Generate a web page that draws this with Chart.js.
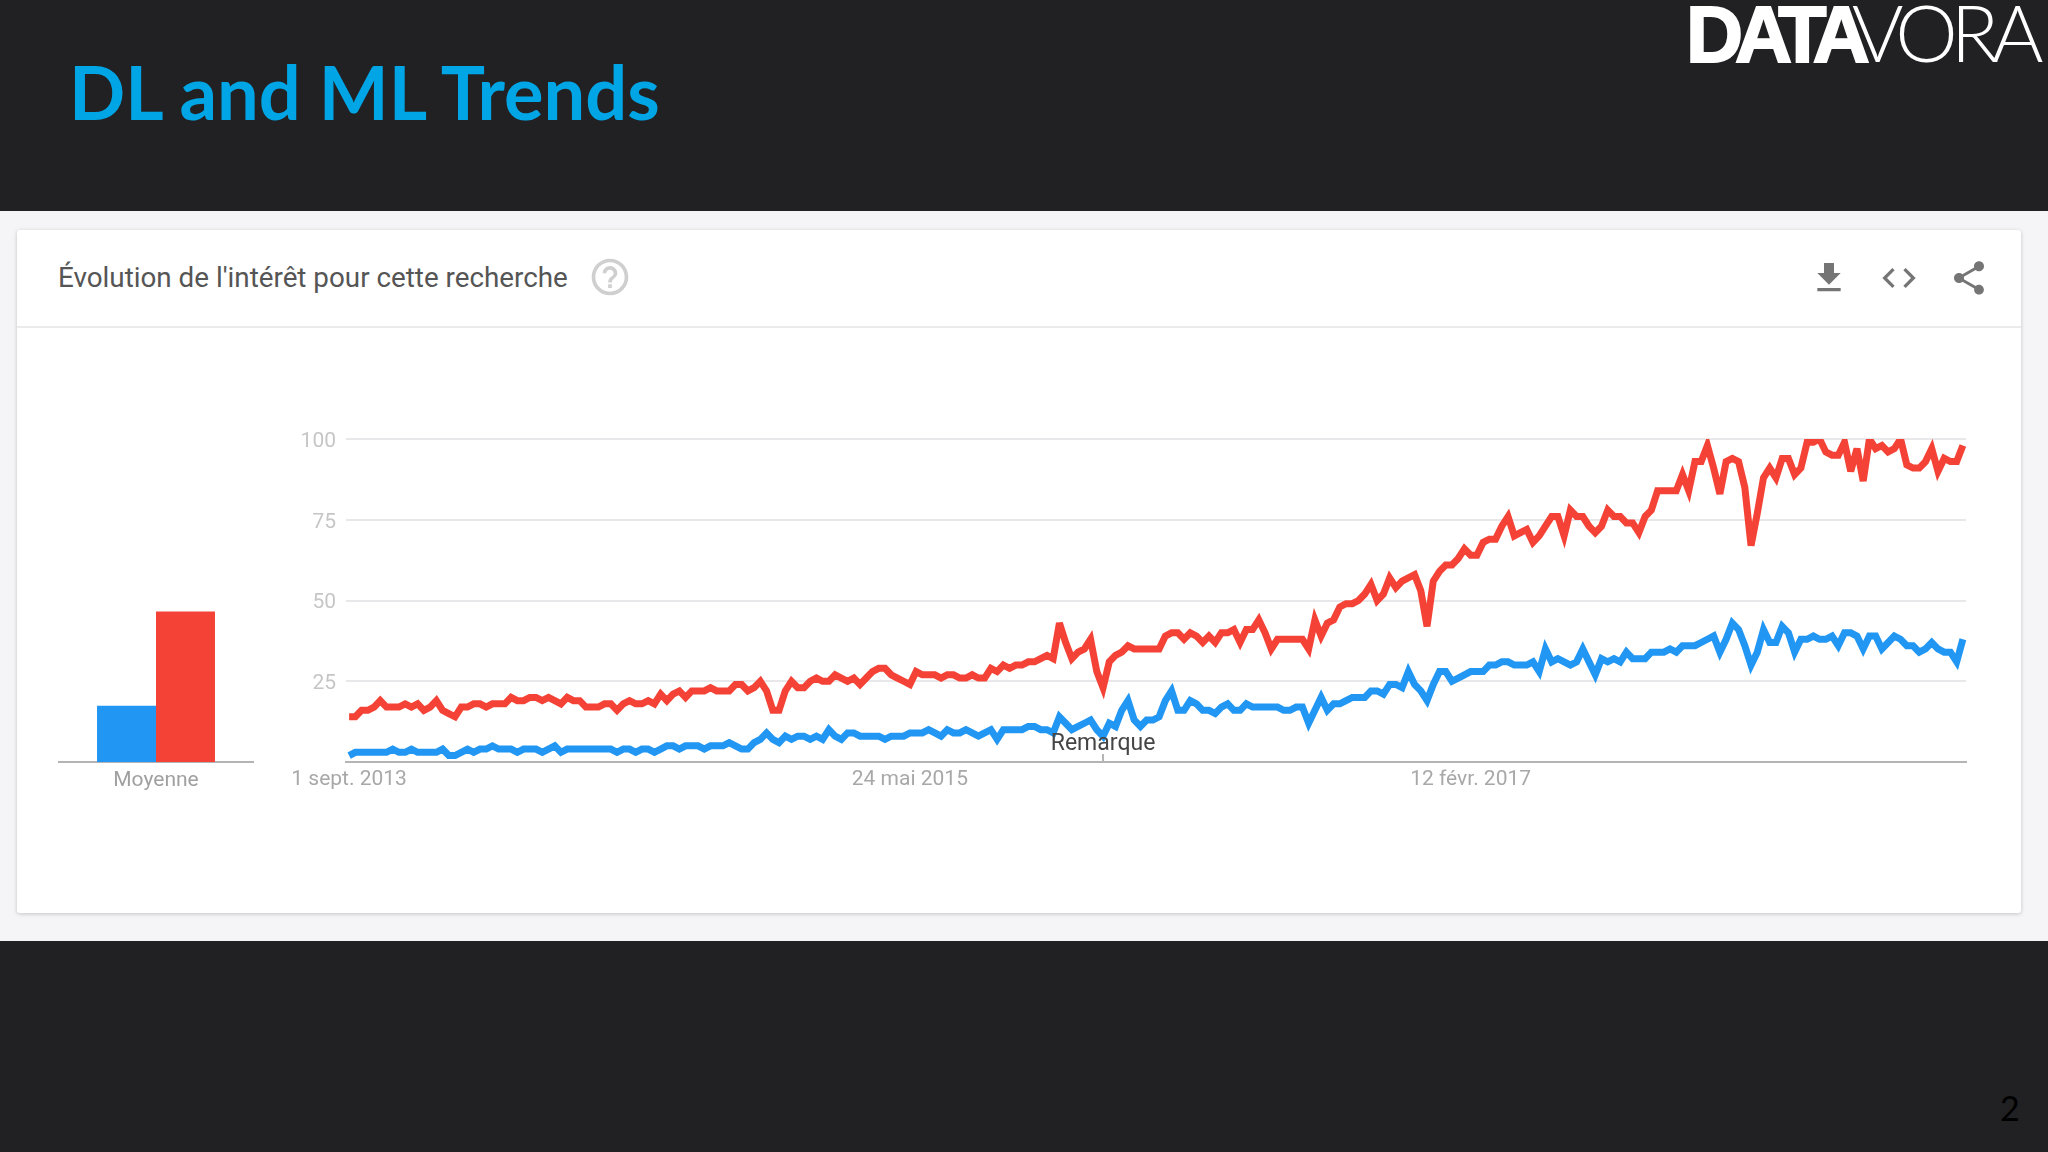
<!DOCTYPE html>
<html lang="fr">
<head>
<meta charset="utf-8">
<title>DL and ML Trends</title>
<script src="https://cdn.jsdelivr.net/npm/chart.js@4/dist/chart.umd.min.js"></script>
<style>
  html, body { margin: 0; padding: 0; width: 2048px; height: 1152px; overflow: hidden; background: #212023; }
  body { position: relative; font-family: Roboto, sans-serif; }
  #title { position: absolute; left: 69px; top: 47px; margin: 0; font: 700 74px/90px Lato, sans-serif; color: #00a5e6; white-space: nowrap; }
  #logo { position: absolute; left: 1686px; top: -8px; font-size: 79px; line-height: 79px; color: #fff; white-space: nowrap; }
  #logo b { font-family: "Liberation Sans", sans-serif; font-weight: 700; letter-spacing: -8px; -webkit-text-stroke: 2px #fff; }
  #logo span { font-family: Lato, sans-serif; font-weight: 300; letter-spacing: -7px; margin-left: -10px; }
  #band { position: absolute; left: 0; top: 211px; width: 2048px; height: 730px; background: #f5f4f6; }
  #card { position: absolute; left: 17px; top: 230px; width: 2004px; height: 683px; background: #fff; border-radius: 3px; box-shadow: 0 1px 4px rgba(0,0,0,.2); }
  #entete { position: absolute; left: 0; top: 0; width: 100%; height: 96px; border-bottom: 2px solid #ebebeb; }
  #entete p { position: absolute; left: 41px; top: 32px; margin: 0; font-size: 27.8px; line-height: 32px; color: #555; white-space: nowrap; }
  #entete svg { position: absolute; }
  #page { position: absolute; left: 2000px; top: 1087px; font: 34px Lato, sans-serif; color: #000; }
  #courbes { position: absolute; left: 250px; top: 420px; }
  #moyenne { position: absolute; left: 40px; top: 420px; }
</style>
</head>
<body>
<h1 id="title">DL and ML Trends</h1>
<div id="logo"><b>DATA</b><span>VORA</span></div>
<div id="band"></div>
<div id="card">
  <div id="entete">
    <p>Évolution de l'intérêt pour cette recherche</p>
    <svg style="left:571px;top:25px" width="44" height="44" viewBox="0 0 24 24" fill="#cfcfcf"><path d="M11 18h2v-2h-2v2zm1-16C6.48 2 2 6.48 2 12s4.48 10 10 10 10-4.48 10-10S17.52 2 12 2zm0 18c-4.41 0-8-3.59-8-8s3.59-8 8-8 8 3.59 8 8-3.59 8-8 8zm0-14c-2.21 0-4 1.79-4 4h2c0-1.1.9-2 2-2s2 .9 2 2c0 2-3 1.75-3 5h2c0-2.25 3-2.5 3-5 0-2.21-1.79-4-4-4z"/></svg>
    <svg style="left:1792px;top:28px" width="40" height="40" viewBox="0 0 24 24" fill="#757575"><path d="M19 9h-4V3H9v6H5l7 7 7-7zM5 18v2h14v-2H5z"/></svg>
    <svg style="left:1862px;top:28px" width="40" height="40" viewBox="0 0 24 24" fill="#757575"><path d="M9.4 16.6L4.8 12l4.6-4.6L8 6l-6 6 6 6 1.4-1.4zm5.2 0l4.6-4.6-4.6-4.6L16 6l6 6-6 6-1.4-1.4z"/></svg>
    <svg style="left:1932px;top:28px" width="40" height="40" viewBox="0 0 24 24" fill="#757575"><path d="M18 16.08c-.76 0-1.44.3-1.96.77L8.91 12.7c.05-.23.09-.46.09-.7s-.04-.47-.09-.7l7.05-4.11c.54.5 1.25.81 2.04.81 1.66 0 3-1.34 3-3s-1.34-3-3-3-3 1.34-3 3c0 .24.04.47.09.7L8.04 9.81C7.5 9.31 6.79 9 6 9c-1.66 0-3 1.34-3 3s1.34 3 3 3c.79 0 1.5-.31 2.04-.81l7.12 4.16c-.05.21-.08.43-.08.65 0 1.61 1.31 2.92 2.92 2.92 1.61 0 2.92-1.31 2.92-2.92s-1.31-2.92-2.92-2.92z"/></svg>
  </div>
</div>
<div id="page">2</div>
<canvas id="moyenne" width="230" height="400"></canvas>
<canvas id="courbes" width="1740" height="400"></canvas>

<script>
// valeurs, une par semaine
const serieRouge = [
  14,14,16,16,17,19,17,17,17,18, 17,18,16,17,19,16,15,14,17,17,
  18,18,17,18,18,18,20,19,19,20, 20,19,20,19,18,20,19,19,17,17,
  17,18,18,16,18,19,18,18,19,18, 21,19,21,22,20,22,22,22,23,22,
  22,22,24,24,22,23,25,22,16,16, 22,25,23,23,25,26,25,25,27,26,
  25,26,24,26,28,29,29,27,26,25, 24,28,27,27,27,26,27,27,26,26,
  27,26,26,29,28,30,29,30,30,31, 31,32,33,32,43,37,32,34,35,38,
  28,23,31,33,34,36,35,35,35,35, 35,39,40,40,38,40,39,37,39,37,
  40,40,41,37,41,41,44,40,35,38, 38,38,38,38,35,44,39,43,44,48,
  49,49,50,52,55,50,52,57,54,56, 57,58,53,42,56,59,61,61,63,66,
  64,64,68,69,69,73,76,70,71,72, 68,70,73,76,76,70,78,76,76,73,
  71,73,78,76,76,74,74,71,76,78, 84,84,84,84,89,84,93,93,98,91,
  83,93,94,93,85,67,77,88,91,88, 94,94,89,91,99,99,100,96,95,95,
  99,90,97,87,100,97,98,96,97,100, 92,91,91,93,97,90,94,93,93,98
];
const serieBleue = [
  2,3,3,3,3,3,3,4,3,3, 4,3,3,3,3,4,2,2,3,4,
  3,4,4,5,4,4,4,3,4,4, 4,3,4,5,3,4,4,4,4,4,
  4,4,4,3,4,4,3,4,4,3, 4,5,5,4,5,5,5,4,5,5,
  5,6,5,4,4,6,7,9,7,6, 8,7,8,8,7,8,7,10,8,7,
  9,9,8,8,8,8,7,8,8,8, 9,9,9,10,9,8,10,9,9,10,
  9,8,9,10,7,10,10,10,10,11, 11,10,10,9,14,12,10,11,12,13,
  10,8,12,11,16,19,13,11,13,13, 14,19,22,16,16,19,18,16,16,15,
  17,18,16,16,18,17,17,17,17,17, 16,16,17,17,12,16,20,16,18,18,
  19,20,20,20,22,22,21,24,24,23, 28,24,22,19,24,28,28,25,26,27,
  28,28,28,30,30,31,31,30,30,30, 31,28,35,31,32,31,30,31,35,31,
  27,32,31,32,31,34,32,32,32,34, 34,34,35,34,36,36,36,37,38,39,
  34,38,43,41,36,30,34,41,37,37, 42,40,34,38,38,39,38,38,39,36,
  40,40,39,35,39,39,35,37,39,38, 36,36,34,35,37,35,34,34,31,38
];
const moyenneBleue = [17.4];
const moyenneRouge = [46.6];
const semaines = serieRouge.map((v, i) => i);
const semainesTick = [0, 90, 180];
const datesTick = ['1 sept. 2013', '24 mai 2015', '12 févr. 2017'];
const semaineRemarque = 121;
const ticksInteret = [0, 25, 50, 75, 100];

const BLEU = '#2196f3';
const ROUGE = '#f44336';
const COULEUR_GRILLE = '#e8e8ea';
const COULEUR_AXE = '#b4b4b6';

// sans ça le canvas fait des pointes sur les creux, le graphique d'origine les coupe
const miterPlugin = {
  id: 'miter',
  beforeDatasetsDraw(chart) { chart.ctx.miterLimit = 4; }
};

const remarquePlugin = {
  id: 'remarque',
  afterDatasetsDraw(chart) {
    const ctx = chart.ctx;
    const x = chart.scales.x.getPixelForValue(semaineRemarque);
    const bas = chart.scales.y.getPixelForValue(0);
    ctx.save();
    ctx.strokeStyle = COULEUR_AXE;
    ctx.lineWidth = 2;
    ctx.beginPath();
    ctx.moveTo(x, bas - 8);
    ctx.lineTo(x, bas);
    ctx.stroke();
    ctx.fillStyle = '#454545';
    ctx.font = '23px Roboto';
    ctx.textAlign = 'center';
    ctx.textBaseline = 'middle';
    ctx.fillText('Remarque', x, bas - 18);
    ctx.restore();
  }
};

new Chart(document.getElementById('courbes'), {
  type: 'line',
  data: {
    labels: semaines,
    datasets: [
      { data: serieBleue, borderColor: BLEU, clip: { top: 0, left: false, right: false, bottom: false } },
      { data: serieRouge, borderColor: ROUGE, clip: { top: 0, left: false, right: false, bottom: false } }
    ]
  },
  plugins: [miterPlugin, remarquePlugin],
  options: {
    responsive: false,
    animation: false,
    layout: { padding: { top: 19, right: 24, left: 0, bottom: 0 } },
    elements: {
      line: { borderWidth: 7, tension: 0, borderJoinStyle: 'miter' },
      point: { radius: 0 }
    },
    plugins: { legend: { display: false }, tooltip: { enabled: false } },
    scales: {
      x: {
        type: 'category',
        offset: true,
        afterBuildTicks(axis) { axis.ticks = semainesTick.map(v => ({ value: v })); },
        afterFit(axis) { axis.height = 58; },
        grid: { display: false, drawTicks: false },
        border: { color: COULEUR_AXE, width: 2 },
        ticks: {
          autoSkip: false,
          maxRotation: 0,
          padding: 5,
          color: '#a8a8a8',
          font: { family: 'Roboto', size: 21 },
          callback(value, i) { return datesTick[i]; }
        }
      },
      y: {
        min: 0,
        max: 100,
        afterBuildTicks(axis) { axis.ticks = ticksInteret.map(v => ({ value: v })); },
        afterFit(axis) {
          axis.width = 96;
          axis.paddingTop = 0;
          axis.paddingBottom = 0;
        },
        grid: {
          color: ctx => (ctx.tick.value === 0 ? COULEUR_AXE : COULEUR_GRILLE),
          lineWidth: 2,
          drawTicks: false
        },
        border: { display: false },
        ticks: {
          padding: 10,
          labelOffset: 2.5,
          color: '#c6c6c6',
          font: { family: 'Roboto', size: 21 },
          callback(value) { return value === 0 ? '' : value; }
        }
      }
    }
  }
});

new Chart(document.getElementById('moyenne'), {
  type: 'bar',
  data: {
    labels: ['Moyenne'],
    datasets: [
      { data: moyenneBleue, backgroundColor: BLEU },
      { data: moyenneRouge, backgroundColor: ROUGE }
    ]
  },
  options: {
    responsive: false,
    animation: false,
    layout: { padding: { top: 19, right: 17, left: 19, bottom: 0 } },
    datasets: { bar: { categoryPercentage: 0.608, barPercentage: 1 } },
    plugins: { legend: { display: false }, tooltip: { enabled: false } },
    scales: {
      x: {
        afterFit(axis) { axis.height = 58; },
        grid: { display: false, drawTicks: false },
        border: { color: COULEUR_AXE, width: 2 },
        ticks: { padding: 6, color: '#a0a0a0', font: { family: 'Roboto', size: 21 } }
      },
      y: { display: false, min: 0, max: 100 }
    }
  }
});
</script>
</body>
</html>
